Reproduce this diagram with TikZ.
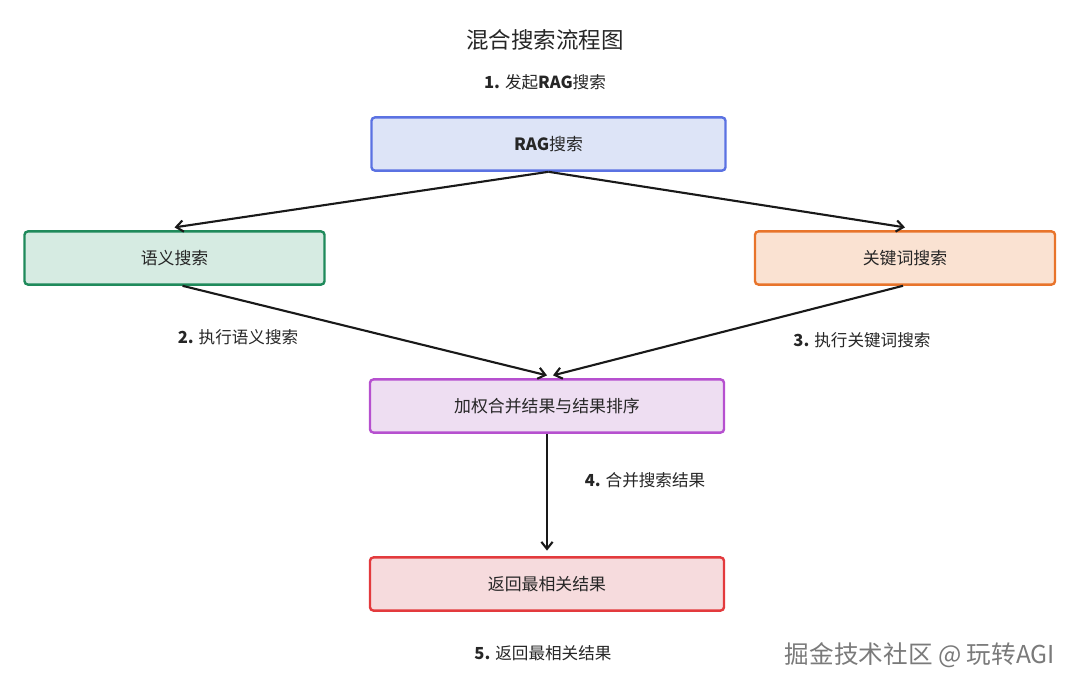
\documentclass[tikz,border=0pt]{standalone}
\usepackage{fontspec}
\usepackage{tikz}
\usetikzlibrary{arrows.meta,positioning}
\setmainfont{Noto Sans CJK SC}
\newfontfamily\wmfont{Noto Sans CJK SC}
\definecolor{ragblue}{HTML}{5B72E2}
\definecolor{ragfill}{HTML}{DDE4F7}
\definecolor{semgreen}{HTML}{1F8A5B}
\definecolor{semfill}{HTML}{D6EBE2}
\definecolor{keyorange}{HTML}{E8742B}
\definecolor{keyfill}{HTML}{FAE2D2}
\definecolor{mrgpurple}{HTML}{B650CF}
\definecolor{mrgfill}{HTML}{EEDEF2}
\definecolor{resred}{HTML}{E33A3D}
\definecolor{resfill}{HTML}{F6DBDD}
\definecolor{wmgray}{HTML}{7A7A7A}

\begin{document}
\begin{tikzpicture}[x=0.025cm,y=-0.025cm,
  box/.style={draw,rounded corners=2.5pt,line width=1.7pt,minimum width=8.85cm,minimum height=1.33cm,align=center,font=\fontsize{12}{14}\selectfont,text=black!85},
  sidebox/.style={box,minimum width=7.5cm},
  step label/.style={font=\fontsize{11.8}{14}\selectfont,text=black!85},
  arr/.style={-{Straight Barb[length=5pt,width=8pt,line width=1.5pt]},line width=1.5pt,black!90}
]
\useasboundingbox (0,0) rectangle (1080,689);

% Title
\node[font=\fontsize{16}{19}\selectfont,text=black!85] (title) at (545,40) {混合搜索流程图};
\node[step label] (s1) at (545,82) {\textbf{1.} 发起\textbf{RAG}搜索};

% Start
\node[box,draw=ragblue,fill=ragfill] (rag) at (548.5,144) {\textbf{RAG}搜索};

% Search branches
\node[sidebox,draw=semgreen,fill=semfill] (sem) at (174.5,258) {语义搜索};
\node[sidebox,draw=keyorange,fill=keyfill] (key) at (905,258) {关键词搜索};
\node[step label] (s2) at (238,337) {\textbf{2.} 执行语义搜索};
\node[step label] (s3) at (862,340) {\textbf{3.} 执行关键词搜索};

% Merge
\node[box,draw=mrgpurple,fill=mrgfill] (merge) at (547,406) {加权合并结果与结果排序};
\node[step label] (s4) at (645,480) {\textbf{4.} 合并搜索结果};

% Output
\node[box,draw=resred,fill=resfill] (result) at (547,584) {返回最相关结果};
\node[step label] (s5) at (543,653) {\textbf{5.} 返回最相关结果};

% Watermark
\node[font=\wmfont\fontsize{17.5}{20}\selectfont,text=wmgray] (wm) at (920,655) {掘金技术社区 @ 玩转AGI};

\draw[arr] (rag.south) -- ([yshift=2pt]sem.north);
\draw[arr] (rag.south) -- ([yshift=2pt]key.north);
\draw[arr] ([xshift=0.2cm]sem.south) -- ([yshift=2pt]merge.north);
\draw[arr] ([xshift=-0.05cm]key.south) -- ([xshift=0.15cm,yshift=2pt]merge.north);
\draw[arr] (merge.south) -- ([yshift=4pt]result.north);
\end{tikzpicture}
\end{document}
